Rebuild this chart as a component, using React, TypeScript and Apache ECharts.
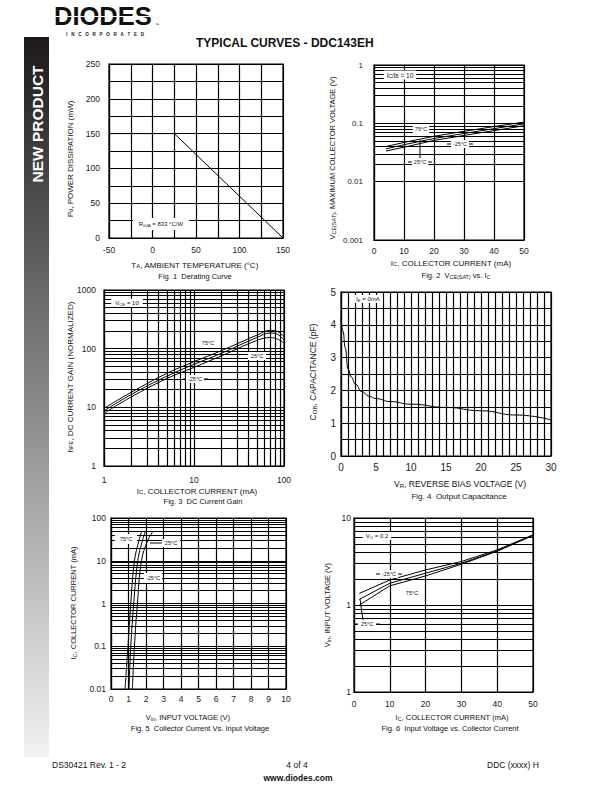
import React, { useEffect, useRef } from 'react';
import * as echarts from 'echarts';

const FONT = '"Liberation Sans", Arial, Helvetica, sans-serif';

// ---------- Fig 1: Derating curve ----------
const F1_TEMP = [-50, 25, 150];
const F1_PD = [150, 150, 0];

// ---------- Fig 2: VCE(SAT) vs IC ----------
const F2_IC = [4, 10, 20, 30, 40, 50];
const F2_VCE_75 = [0.040, 0.047, 0.060, 0.073, 0.088, 0.105];
const F2_VCE_M25 = [0.0365, 0.043, 0.055, 0.067, 0.081, 0.098];
const F2_VCE_25 = [0.0335, 0.039, 0.051, 0.062, 0.075, 0.091];

// ---------- Fig 3: DC current gain ----------
const F3_IC = [1, 2, 5, 10, 20, 50, 70, 85, 100];
const F3_HFE_75 = [9.6, 18, 38, 60, 92, 170, 205, 195, 160];
const F3_HFE_25 = [8.7, 16.5, 34, 54, 83, 155, 185, 175, 140];
const F3_HFE_M25 = [7.9, 15, 31, 48, 75, 138, 155, 145, 125];

// ---------- Fig 4: Output capacitance ----------
const F4_VR = [0, 0.3, 0.6, 1, 1.5, 2, 3, 4, 5, 7, 10, 15, 20, 25, 30];
const F4_COB = [4.2, 3.8, 3.3, 2.65, 2.4, 2.2, 1.96, 1.82, 1.75, 1.66, 1.58, 1.48, 1.38, 1.25, 1.1];

// ---------- Fig 5: IC vs Vin ----------
const F5_IC = [0.01, 0.1, 1, 10, 30, 50];
const F5_VIN_75 = [0.80, 0.97, 1.13, 1.34, 1.60, 1.76];
const F5_VIN_25 = [1.03, 1.13, 1.30, 1.53, 1.80, 1.98];
const F5_VIN_M25 = [1.22, 1.34, 1.51, 1.74, 2.10, 2.42];

// ---------- Fig 6: Vin vs IC ----------
const F6_IC = [1.5, 10, 20, 30, 40, 50];
const F6_VIN_M25 = [1.36, 1.94, 2.53, 3.16, 4.3, 6.4];
const F6_VIN_25 = [1.16, 1.78, 2.32, 3.02, 4.2, 6.35];
const F6_VIN_75 = [1.0, 1.66, 2.16, 2.94, 4.15, 6.3];
const F6_YLABELS: Record<string, string> = { '0.1': '1', '1': '1', '10': '10' };

// log-paper minor grid helper (2..9 within each decade)
const MINOR = [2, 3, 4, 5, 6, 7, 8, 9];
const minorOf = (decades: number[]) =>
  decades.flatMap((d) => MINOR.map((k) => Number((k * d).toPrecision(6))));

const pairs = (xs: number[], ys: number[]) => xs.map((x, i) => [x, ys[i]]);

const GRIDS = [
  { left: 109, top: 64, width: 174, height: 174 },
  { left: 374, top: 65, width: 150, height: 175 },
  { left: 104, top: 290, width: 180, height: 176 },
  { left: 341, top: 292, width: 210, height: 164 },
  { left: 111, top: 518, width: 175, height: 171 },
  { left: 354, top: 518, width: 179, height: 174 },
];

const LINE = { color: '#000', width: 1.2 };

function axis(gridIndex: number, extra: any, labelSize = 8.5, margin = 6) {
  return {
    gridIndex,
    axisLine: { show: true, onZero: false, lineStyle: LINE },
    axisTick: { show: false },
    splitLine: { show: true, lineStyle: LINE },
    ...extra,
    axisLabel: {
      color: '#222',
      fontSize: labelSize,
      fontFamily: FONT,
      margin,
      ...(extra.axisLabel || {}),
    },
  };
}

function curve(i: number, data: number[][], extra: any = {}) {
  return {
    type: 'line',
    xAxisIndex: i,
    yAxisIndex: i,
    data,
    showSymbol: false,
    symbol: 'none',
    silent: true,
    lineStyle: { color: '#000', width: 1 },
    z: 5,
    ...extra,
  };
}

function minorLines(xs: number[], ys: number[]) {
  return {
    markLine: {
      silent: true,
      symbol: ['none', 'none'],
      label: { show: false },
      animation: false,
      lineStyle: { color: '#000', width: 1.2, type: 'solid' },
      emphasis: { disabled: true },
      data: [...xs.map((v) => ({ xAxis: v })), ...ys.map((v) => ({ yAxis: v }))],
    },
  };
}

function txt(x: number, y: number, text: string, o: any = {}) {
  const size = o.size || 8;
  const align = o.align || 'center';
  return {
    type: 'text',
    x,
    y,
    rotation: o.rot || 0,
    z: 100,
    silent: true,
    style: {
      text,
      fill: o.color || '#111',
      fontSize: size,
      fontFamily: FONT,
      fontWeight: o.weight || 'normal',
      lineHeight: o.lh,
      align,
      textAlign: align,
      verticalAlign: 'middle',
      textVerticalAlign: 'middle',
      backgroundColor: o.bg,
      padding: o.pad,
      rich: {
        s: { fontSize: size * 0.72, fontFamily: FONT, fill: o.color || '#111', verticalAlign: 'bottom', lineHeight: size * 0.72 },
      },
    },
  };
}

function seg(x1: number, y1: number, x2: number, y2: number) {
  return { type: 'line', z: 99, silent: true, shape: { x1, y1, x2, y2 }, style: { stroke: '#000', lineWidth: 1 } };
}

const ROT = Math.PI / 2;
const NB = '\u00A0';

function buildGraphic() {
  const el: any[] = [];
  // sidebar
  el.push({
    type: 'rect',
    shape: { x: 24, y: 37, width: 25, height: 720 },
    style: {
      fill: {
        type: 'linear', x: 0, y: 0, x2: 0, y2: 1,
        colorStops: [
          { offset: 0, color: '#1d1919' },
          { offset: 0.28, color: '#5a5858' },
          { offset: 1, color: '#f2f2f2' },
        ],
      },
    },
    silent: true,
  });
  el.push(txt(37, 124, 'NEW PRODUCT', { rot: ROT, size: 15.5, weight: 'bold', color: '#ffffff' }));
  // logo
  el.push(txt(54, 16, 'DIODES', { align: 'left', size: 25.5, weight: 'bold', color: '#111', lh: 19 }));
  el.push({ type: 'rect', silent: true, z: 101, shape: { x: 54, y: 16, width: 102, height: 1.1 }, style: { fill: '#fff' } });
  el.push(txt(155, 24, '™', { align: 'left', size: 4, lh: 4 }));
  el.push(txt(105, 34.5, 'INCORPORATED'.split('').join(NB + NB + NB), { size: 4.5, weight: 'bold', lh: 5 }));
  // title
  el.push(txt(196, 43, 'TYPICAL CURVES - DDC143EH', { align: 'left', size: 12, weight: 'bold' }));

  // Fig 1
  el.push(txt(70, 159, 'P{s|d}, POWER DISSIPATION (mW)', { rot: ROT, size: 8 }));
  el.push(txt(195, 265, 'T{s|A}, AMBIENT TEMPERATURE (°C)', { size: 8 }));
  el.push(txt(195, 276, 'Fig. 1  Derating Curve', { size: 7.5 }));
  el.push(txt(161, 224, 'R{s|θJA} = 833 °C/W', { size: 6, bg: '#fff', pad: [3, 6, 3, 6] }));

  // Fig 2
  el.push(txt(332, 158, 'V{s|CE(SAT)}, MAXIMUM COLLECTOR VOLTAGE (V)', { rot: ROT, size: 7.5 }));
  el.push(txt(451, 263, 'I{s|C}, COLLECTOR CURRENT (mA)', { size: 8 }));
  el.push(txt(456, 275, 'Fig. 2  V{s|CE(SAT)} vs. I{s|C}', { size: 7.5 }));
  el.push(txt(400, 75, 'I{s|C}/I{s|B} = 10', { size: 6.5, bg: '#fff', pad: [1, 3, 1, 3] }));
  el.push(txt(421, 129, '75°C', { size: 5.5, bg: '#fff', pad: [1, 2, 1, 2] }));
  el.push(seg(447, 144, 473, 144));
  el.push(txt(460, 144, '-25°C', { size: 5.5, bg: '#fff', pad: [1, 2, 1, 2] }));
  el.push(seg(420, 140, 420, 158));
  el.push(seg(408, 162, 432, 162));
  el.push(txt(420, 162, '25°C', { size: 5.5, bg: '#fff', pad: [1, 2, 1, 2] }));

  // Fig 3
  el.push(txt(70, 377, 'h{s|FE}, DC CURRENT GAIN (NORMALIZED)', { rot: ROT, size: 8 }));
  el.push(txt(197, 491, 'I{s|C}, COLLECTOR CURRENT (mA)', { size: 8 }));
  el.push(txt(203, 501, 'Fig. 3  DC Current Gain', { size: 7.5 }));
  el.push(txt(127, 303, 'V{s|CE} = 10', { size: 6, bg: '#fff', pad: [1, 4, 1, 4] }));
  el.push(txt(208, 343, '75°C', { size: 5.5, bg: '#fff', pad: [1, 2, 1, 2] }));
  el.push(txt(257, 356, '25°C', { size: 5.5, bg: '#fff', pad: [1, 3, 1, 3] }));
  el.push(seg(183, 379, 208, 379));
  el.push(txt(195, 379, '-25°C', { size: 5.5, bg: '#fff', pad: [1, 2, 1, 2] }));

  // Fig 4
  el.push(txt(313, 372, 'C{s|OB}, CAPACITANCE (pF)', { rot: ROT, size: 8.5 }));
  el.push(txt(460, 484, 'V{s|R}, REVERSE BIAS VOLTAGE (V)', { size: 8.5 }));
  el.push(txt(459, 496, 'Fig. 4  Output Capacitance', { size: 8 }));
  el.push(txt(368, 299, 'I{s|E} = 0mA', { size: 6, bg: '#fff', pad: [1, 3, 1, 3] }));

  // Fig 5
  el.push(txt(73, 603, 'I{s|C}, COLLECTOR CURRENT (mA)', { rot: ROT, size: 7.5 }));
  el.push(txt(188, 717, 'V{s|in}, INPUT VOLTAGE (V)', { size: 7.5 }));
  el.push(txt(200, 728, 'Fig. 5  Collector Current Vs. Input Voltage', { size: 7.5 }));
  el.push(txt(126, 539, '75°C', { size: 5.5, bg: '#fff', pad: [2, 5, 2, 5] }));
  el.push(seg(150, 543, 162, 543));
  el.push(txt(171, 543, '25°C', { size: 5.5, bg: '#fff', pad: [1, 3, 1, 3] }));
  el.push(txt(153, 578, '-25°C', { size: 5.5, bg: '#fff', pad: [2, 2, 2, 2] }));

  // Fig 6
  el.push(txt(327, 605, 'V{s|in}, INPUT VOLTAGE (V)', { rot: ROT, size: 7.5 }));
  el.push(txt(452, 717, 'I{s|C}, COLLECTOR CURRENT (mA)', { size: 7.5 }));
  el.push(txt(450, 728, 'Fig. 6  Input Voltage vs. Collector Current', { size: 7.5 }));
  el.push(txt(377, 536, 'V{s|O} = 0.2', { size: 6, bg: '#fff', pad: [1, 3, 1, 3] }));
  el.push(seg(376, 574, 402, 574));
  el.push(txt(389, 574, '-25°C', { size: 5.5, bg: '#fff', pad: [1, 2, 1, 2] }));
  el.push(txt(412, 593, '75°C', { size: 5.5, bg: '#fff', pad: [1, 3, 1, 3] }));
  el.push(seg(360, 599, 363, 620));
  el.push(seg(355, 624, 380, 624));
  el.push(txt(367, 624, '25°C', { size: 5.5, bg: '#fff', pad: [1, 3, 1, 3] }));

  // footer
  el.push(txt(52, 765, 'DS30421 Rev. 1 - 2', { align: 'left', size: 8.5 }));
  el.push(txt(297, 765, '4 of 4', { size: 8.5 }));
  el.push(txt(298, 778, 'www.diodes.com', { size: 8.5, weight: 'bold' }));
  el.push(txt(487, 765, 'DDC (xxxx) H', { align: 'left', size: 8.5 }));
  return el;
}

export default function App() {
  const ref = useRef<HTMLDivElement>(null);
  useEffect(() => {
    if (!ref.current) return;
    const chart = echarts.init(ref.current, null, { renderer: 'svg' });
    const plain = (v: number) => String(v);
    const option: any = {
      animation: false,
      backgroundColor: '#fff',
      grid: GRIDS.map((g) => ({ ...g, show: true, borderColor: '#000', borderWidth: 1.2, containLabel: false })),
      xAxis: [
        axis(0, { type: 'value', min: -50, max: 150, interval: 25,
          axisLabel: { formatter: (v: number) => (v % 50 === 0 ? String(v) : '') } }, 8.5, 7),
        axis(1, { type: 'value', min: 0, max: 50, interval: 10 }, 8.5, 6),
        axis(2, { type: 'log', logBase: 10, min: 1, max: 100, axisLabel: { formatter: plain } }, 8.5, 9),
        axis(3, { type: 'value', min: 0, max: 30, interval: 1,
          axisLabel: { formatter: (v: number) => (v % 5 === 0 ? String(v) : '') } }, 10, 6),
        axis(4, { type: 'value', min: 0, max: 10, interval: 1 }, 8.5, 5),
        axis(5, { type: 'value', min: 0, max: 50, interval: 10 }, 8.5, 7),
      ],
      yAxis: [
        axis(0, { type: 'value', min: 0, max: 250, interval: 25,
          axisLabel: { formatter: (v: number) => (v % 50 === 0 ? String(v) : '') } }, 8.5, 9),
        axis(1, { type: 'log', logBase: 10, min: 0.001, max: 1, axisLabel: { formatter: plain } }, 8, 11),
        axis(2, { type: 'log', logBase: 10, min: 1, max: 1000, axisLabel: { formatter: plain } }, 8.5, 8),
        axis(3, { type: 'value', min: 0, max: 5, interval: 0.5,
          axisLabel: { formatter: (v: number) => (Number.isInteger(v) ? String(v) : '') } }, 10, 5),
        axis(4, { type: 'log', logBase: 10, min: 0.01, max: 100, axisLabel: { formatter: plain } }, 8.5, 5),
        axis(5, { type: 'log', logBase: 10, min: 0.1, max: 10,
          axisLabel: { formatter: (v: number) => F6_YLABELS[String(v)] ?? String(v) } }, 8.5, 3),
      ],
      series: [
        curve(0, pairs(F1_TEMP, F1_PD)),
        curve(1, pairs(F2_IC, F2_VCE_75), minorLines([], minorOf([0.001, 0.01, 0.1]))),
        curve(1, pairs(F2_IC, F2_VCE_M25)),
        curve(1, pairs(F2_IC, F2_VCE_25)),
        curve(2, pairs(F3_IC, F3_HFE_75), { smooth: 0.4, ...minorLines(minorOf([1, 10]), minorOf([1, 10, 100])) }),
        curve(2, pairs(F3_IC, F3_HFE_25), { smooth: 0.4 }),
        curve(2, pairs(F3_IC, F3_HFE_M25), { smooth: 0.4 }),
        curve(3, pairs(F4_VR, F4_COB), { smooth: 0.5, smoothMonotone: 'x' }),
        curve(4, pairs(F5_VIN_75, F5_IC), { smooth: 0.4, ...minorLines([], minorOf([0.01, 0.1, 1, 10])) }),
        curve(4, pairs(F5_VIN_25, F5_IC), { smooth: 0.4 }),
        curve(4, pairs(F5_VIN_M25, F5_IC), { smooth: 0.4 }),
        curve(5, pairs(F6_IC, F6_VIN_M25), minorLines([], minorOf([0.1, 1]))),
        curve(5, pairs(F6_IC, F6_VIN_25)),
        curve(5, pairs(F6_IC, F6_VIN_75)),
      ],
      graphic: { elements: buildGraphic() },
    };
    chart.setOption(option);
    return () => chart.dispose();
  }, []);
  return (
    <div
      ref={ref}
      style={{ position: 'absolute', left: 0, top: 0, width: 612, height: 792, background: '#fff' }}
    />
  );
}
